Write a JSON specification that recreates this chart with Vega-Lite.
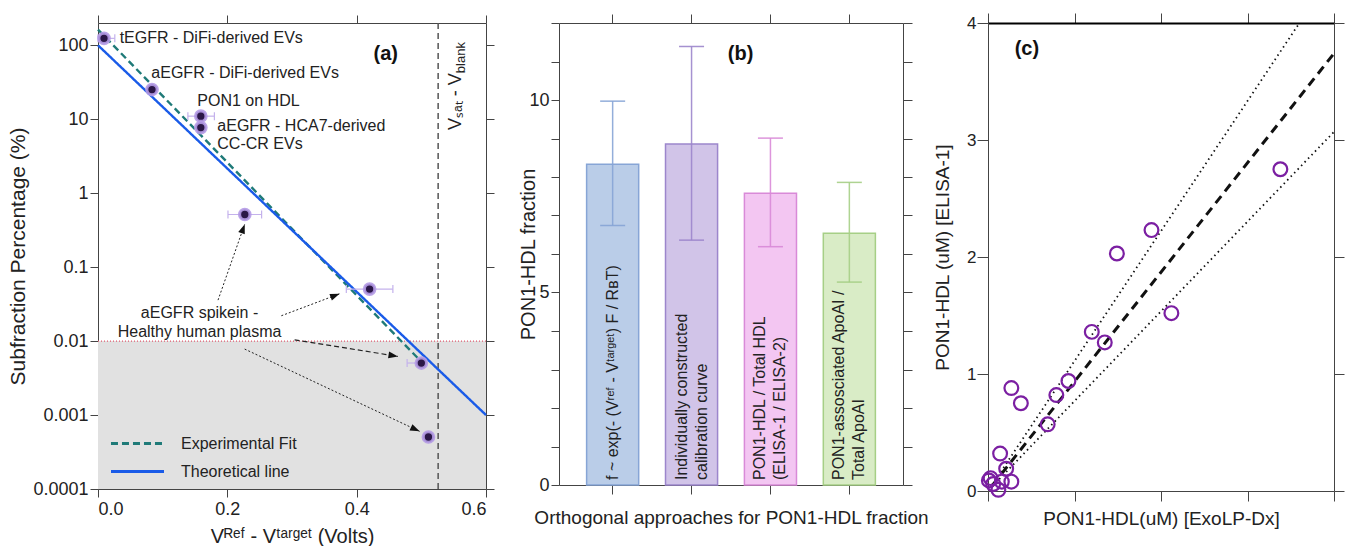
{
  "$schema": "https://vega.github.io/schema/vega-lite/v6.json",
  "padding": {"left": 7, "top": 12, "right": 0, "bottom": 0},
  "background": "white",
  "spacing": 23,
  "config": {
    "font": "Liberation Sans",
    "view": {"stroke": null},
    "axis": {"grid": false, "domainColor": "#444", "tickColor": "#444", "labelColor": "#222", "titleColor": "#222", "titleFontWeight": "normal", "labelFont": "Liberation Sans", "titleFont": "Liberation Sans"}
  },
  "datasets": {
    "pts": [
      {"sample": "tEGFR - DiFi-derived EVs", "v": 0.0093, "pct": 124, "vlo": 0.0, "vhi": 0.026},
      {"sample": "aEGFR - DiFi-derived EVs", "v": 0.0835, "pct": 25.2, "vlo": 0.079, "vhi": 0.088},
      {"sample": "PON1 on HDL", "v": 0.159, "pct": 11.0, "vlo": 0.139, "vhi": 0.18},
      {"sample": "aEGFR - HCA7-derived CC-CR EVs", "v": 0.159, "pct": 7.7, "vlo": 0.155, "vhi": 0.163},
      {"sample": "aEGFR spikein 1", "v": 0.227, "pct": 0.515, "vlo": 0.201, "vhi": 0.253},
      {"sample": "aEGFR spikein 2", "v": 0.42, "pct": 0.0505, "vlo": 0.384, "vhi": 0.456},
      {"sample": "aEGFR spikein 3", "v": 0.5, "pct": 0.00505, "vlo": 0.478, "vhi": 0.505},
      {"sample": "aEGFR spikein 4", "v": 0.511, "pct": 0.000505, "vlo": 0.506, "vhi": 0.516}
    ],
    "fits": [
      {"series": "Experimental Fit", "v": 0, "pct": 163},
      {"series": "Experimental Fit", "v": 0.497, "pct": 0.0056},
      {"series": "Theoretical line", "v": 0, "pct": 100},
      {"series": "Theoretical line", "v": 0.6, "pct": 0.001}
    ],
    "labelsA": [
      {"text": "tEGFR -  DiFi-derived EVs", "v": 0.0335, "pct": 124},
      {"text": "aEGFR -  DiFi-derived EVs", "v": 0.0825, "pct": 41.9},
      {"text": "PON1 on HDL", "v": 0.1536, "pct": 17.5},
      {"text": "aEGFR -  HCA7-derived", "v": 0.1845, "pct": 8.22},
      {"text": "CC-CR EVs", "v": 0.1845, "pct": 4.63}
    ],
    "labelsA2": [
      {"text": "aEGFR spikein -", "v": 0.157, "pct": 0.0239},
      {"text": "Healthy human plasma", "v": 0.157, "pct": 0.01324}
    ],
    "arrows": [
      {"v1": 0.1856, "p1": 0.0358, "v2": 0.2269, "p2": 0.381},
      {"v1": 0.2835, "p1": 0.022, "v2": 0.3736, "p2": 0.0436},
      {"v1": 0.2268, "p1": 0.0078, "v2": 0.4973, "p2": 0.000602}
    ],
    "bars": [
      {"approach": "f ~ exp(- (Vʳᵉᶠ - Vᵗᵃʳᵍᵉᵗ) F / RʙT)", "value": 8.33, "lo": 6.74, "hi": 9.97},
      {"approach": "Individually constructed\ncalibration curve", "value": 8.86, "lo": 6.36, "hi": 11.39},
      {"approach": "PON1-HDL / Total HDL\n(ELISA-1 / ELISA-2)", "value": 7.58, "lo": 6.19, "hi": 9.01},
      {"approach": "PON1-assosciated ApoAI /\nTotal ApoAI", "value": 6.54, "lo": 5.27, "hi": 7.86}
    ],
    "ptsC": [
      {"exolp": 3.38, "elisa": 2.75},
      {"exolp": 1.89, "elisa": 2.23},
      {"exolp": 1.49, "elisa": 2.03},
      {"exolp": 2.12, "elisa": 1.52},
      {"exolp": 1.2, "elisa": 1.36},
      {"exolp": 1.35, "elisa": 1.27},
      {"exolp": 0.93, "elisa": 0.94},
      {"exolp": 0.79, "elisa": 0.82},
      {"exolp": 0.69, "elisa": 0.57},
      {"exolp": 0.27, "elisa": 0.88},
      {"exolp": 0.38, "elisa": 0.75},
      {"exolp": 0.14, "elisa": 0.32},
      {"exolp": 0.21, "elisa": 0.19},
      {"exolp": 0.03, "elisa": 0.11},
      {"exolp": 0.27, "elisa": 0.08},
      {"exolp": 0.06, "elisa": 0.06},
      {"exolp": 0.12, "elisa": 0.01},
      {"exolp": 0.16, "elisa": 0.08},
      {"exolp": 0.01, "elisa": 0.09}
    ],
    "fitC": [
      {"exolp": 0.05, "elisa": 0.047},
      {"exolp": 4, "elisa": 3.74}
    ],
    "boundsC": [
      {"bound": "upper", "exolp": 0.05, "elisa": 0.055},
      {"bound": "upper", "exolp": 3.6, "elisa": 4},
      {"bound": "lower", "exolp": 0.05, "elisa": 0.04},
      {"bound": "lower", "exolp": 4, "elisa": 3.07}
    ]
  },
  "hconcat": [
    {
      "width": 388,
      "height": 466,
      "resolve": {"axis": {"x": "independent", "y": "independent"}},
      "layer": [
        {
          "data": {"values": [{}]},
          "mark": {"type": "rect", "color": "#e1e1e1"},
          "encoding": {
            "x": {"datum": 0, "type": "quantitative", "scale": {"domain": [0, 0.6], "nice": false, "zero": false},
              "axis": {"orient": "bottom", "values": [0, 0.2, 0.4, 0.6], "format": ".1f", "labelFontSize": 18, "tickSize": 8, "labelPadding": 3, "title": "Vᴿᵉᶠ - Vᵗᵃʳᵍᵉᵗ (Volts)", "titleFontSize": 20, "titlePadding": 8}},
            "x2": {"datum": 0.6},
            "y": {"datum": 0.0001, "type": "quantitative", "scale": {"type": "log", "domain": [0.0001, 200], "nice": false},
              "axis": {"orient": "left", "values": [0.0001, 0.001, 0.01, 0.1, 1, 10, 100], "format": "~g", "labelFontSize": 18, "tickSize": 8, "labelPadding": 2, "title": "Subfraction Percentage (%)", "titleFontSize": 21, "titlePadding": 4}},
            "y2": {"datum": 0.01}
          }
        },
        {
          "data": {"values": [{}]},
          "mark": {"type": "rule", "color": "#e05a6e", "strokeDash": [1, 2], "strokeWidth": 1.2},
          "encoding": {"y": {"datum": 0.01, "type": "quantitative", "axis": null}}
        },
        {
          "data": {"values": [{}]},
          "mark": {"type": "rule", "color": "#555", "strokeDash": [6, 4], "strokeWidth": 1.5},
          "encoding": {"x": {"datum": 0.526, "type": "quantitative", "axis": null}}
        },
        {
          "data": {"name": "fits"},
          "mark": {"type": "line", "strokeWidth": 2.4},
          "encoding": {
            "x": {"field": "v", "type": "quantitative", "axis": {"orient": "top", "values": [0, 0.2, 0.4, 0.6], "labels": false, "tickSize": 8, "title": null}},
            "y": {"field": "pct", "type": "quantitative", "axis": {"orient": "right", "values": [0.0001, 0.001, 0.01, 0.1, 1, 10, 100], "labels": false, "tickSize": 8, "title": null}},
            "color": {"field": "series", "type": "nominal", "scale": {"domain": ["Experimental Fit", "Theoretical line"], "range": ["#1f7a78", "#1a5be8"]},
              "legend": {"orient": "none", "legendX": 27, "legendY": 408, "title": null, "padding": 0, "symbolType": "M-2.5,0L2.5,0", "symbolSize": 450, "symbolStrokeWidth": 3, "labelFontSize": 16, "labelOffset": 31, "rowPadding": 7, "labelColor": "#222"}},
            "strokeDash": {"field": "series", "type": "nominal", "scale": {"domain": ["Experimental Fit", "Theoretical line"], "range": [[7, 4], [1, 0]]},
              "legend": {"orient": "none", "legendX": 27, "legendY": 408, "title": null, "padding": 0, "symbolType": "M-2.5,0L2.5,0", "symbolSize": 450, "symbolStrokeWidth": 3, "labelFontSize": 16, "labelOffset": 31, "rowPadding": 7, "labelColor": "#222"}}
          }
        },
        {
          "data": {"name": "pts"},
          "mark": {"type": "rule", "color": "#c4b2ec", "strokeWidth": 1.2},
          "encoding": {
            "x": {"field": "vlo", "type": "quantitative", "axis": null},
            "x2": {"field": "vhi"},
            "y": {"field": "pct", "type": "quantitative", "axis": null}
          }
        },
        {
          "data": {"name": "pts"},
          "mark": {"type": "point", "shape": "M0,-1L0,1", "filled": false, "stroke": "#c4b2ec", "strokeWidth": 1.2, "opacity": 1, "size": 64},
          "encoding": {
            "x": {"field": "vhi", "type": "quantitative", "axis": null},
            "y": {"field": "pct", "type": "quantitative", "axis": null}
          }
        },
        {
          "data": {"name": "pts"},
          "mark": {"type": "point", "shape": "M0,-1L0,1", "filled": false, "stroke": "#c4b2ec", "strokeWidth": 1.2, "opacity": 1, "size": 64},
          "encoding": {
            "x": {"field": "vlo", "type": "quantitative", "axis": null},
            "y": {"field": "pct", "type": "quantitative", "axis": null}
          }
        },
        {
          "data": {"name": "pts"},
          "mark": {"type": "point", "shape": "circle", "filled": true, "fill": "#2b1747", "fillOpacity": 1, "stroke": "#b49ae6", "strokeWidth": 3.2, "strokeOpacity": 0.9, "opacity": 1, "size": 110},
          "encoding": {
            "x": {"field": "v", "type": "quantitative", "axis": null},
            "y": {"field": "pct", "type": "quantitative", "axis": null}
          }
        },
        {
          "data": {"name": "labelsA"},
          "mark": {"type": "text", "align": "left", "baseline": "middle", "fontSize": 16, "color": "#222"},
          "encoding": {
            "x": {"field": "v", "type": "quantitative", "axis": null},
            "y": {"field": "pct", "type": "quantitative", "axis": null},
            "text": {"field": "text"}
          }
        },
        {
          "data": {"name": "labelsA2"},
          "mark": {"type": "text", "align": "center", "baseline": "middle", "fontSize": 16, "color": "#222"},
          "encoding": {
            "x": {"field": "v", "type": "quantitative", "axis": null},
            "y": {"field": "pct", "type": "quantitative", "axis": null},
            "text": {"field": "text"}
          }
        },
        {
          "data": {"values": [{}]},
          "mark": {"type": "text", "text": "(a)", "fontSize": 20, "fontWeight": "bold", "align": "center", "baseline": "middle", "color": "#111"},
          "encoding": {"x": {"datum": 0.445, "type": "quantitative", "axis": null}, "y": {"datum": 76.3, "type": "quantitative", "axis": null}}
        },
        {
          "data": {"values": [{}]},
          "mark": {"type": "text", "text": "Vₛₐₜ - V", "fontSize": 18, "angle": 270, "align": "right", "baseline": "alphabetic", "color": "#222"},
          "encoding": {"x": {"datum": 0.5613, "type": "quantitative", "axis": null}, "y": {"datum": 41.9, "type": "quantitative", "axis": null}}
        },
        {
          "data": {"values": [{}]},
          "mark": {"type": "text", "text": "blank", "fontSize": 13, "angle": 270, "align": "left", "baseline": "alphabetic", "dy": 4, "color": "#222"},
          "encoding": {"x": {"datum": 0.5613, "type": "quantitative", "axis": null}, "y": {"datum": 41.9, "type": "quantitative", "axis": null}}
        },
        {
          "data": {"name": "arrows"},
          "mark": {"type": "rule", "color": "#222", "strokeWidth": 1, "strokeDash": [2, 2]},
          "encoding": {
            "x": {"field": "v1", "type": "quantitative", "axis": null},
            "y": {"field": "p1", "type": "quantitative", "axis": null},
            "x2": {"field": "v2"},
            "y2": {"field": "p2"}
          }
        },
        {
          "data": {"values": [{"v1": 0.304, "p1": 0.0104, "v2": 0.4639, "p2": 0.00621}]},
          "mark": {"type": "rule", "color": "#222", "strokeWidth": 1.2, "strokeDash": [5, 3]},
          "encoding": {
            "x": {"field": "v1", "type": "quantitative", "axis": null},
            "y": {"field": "p1", "type": "quantitative", "axis": null},
            "x2": {"field": "v2"},
            "y2": {"field": "p2"}
          }
        },
        {
          "data": {"values": [{}]},
          "mark": {"type": "point", "shape": "M0,0L-0.4,1.1L0.4,1.1Z", "angle": 19.8, "filled": true, "color": "#111", "opacity": 1, "size": 300},
          "encoding": {"x": {"datum": 0.2269, "type": "quantitative", "axis": null}, "y": {"datum": 0.381, "type": "quantitative", "axis": null}}
        },
        {
          "data": {"values": [{}]},
          "mark": {"type": "point", "shape": "M0,0L-0.4,1.1L0.4,1.1Z", "angle": 69.4, "filled": true, "color": "#111", "opacity": 1, "size": 300},
          "encoding": {"x": {"datum": 0.3736, "type": "quantitative", "axis": null}, "y": {"datum": 0.0436, "type": "quantitative", "axis": null}}
        },
        {
          "data": {"values": [{}]},
          "mark": {"type": "point", "shape": "M0,0L-0.4,1.1L0.4,1.1Z", "angle": 99.1, "filled": true, "color": "#111", "opacity": 1, "size": 300},
          "encoding": {"x": {"datum": 0.4639, "type": "quantitative", "axis": null}, "y": {"datum": 0.00621, "type": "quantitative", "axis": null}}
        },
        {
          "data": {"values": [{}]},
          "mark": {"type": "point", "shape": "M0,0L-0.4,1.1L0.4,1.1Z", "angle": 115.2, "filled": true, "color": "#111", "opacity": 1, "size": 300},
          "encoding": {"x": {"datum": 0.4973, "type": "quantitative", "axis": null}, "y": {"datum": 0.000602, "type": "quantitative", "axis": null}}
        }
      ]
    },
    {
      "spacing": 4,
      "hconcat": [
        {
          "width": 344,
          "height": 462,
          "data": {"name": "bars"},
          "resolve": {"axis": {"x": "independent", "y": "independent"}},
          "layer": [
            {
              "mark": {"type": "bar", "strokeWidth": 1.5},
              "encoding": {
                "x": {"field": "approach", "type": "nominal", "sort": null, "scale": {"paddingInner": 0.34, "paddingOuter": 0.35},
                  "axis": {"orient": "bottom", "labels": false, "tickSize": 9, "title": "Orthogonal approaches for PON1-HDL fraction", "titleFontSize": 19, "titlePadding": 14}},
                "y": {"field": "value", "type": "quantitative", "scale": {"domain": [0, 12], "nice": false},
                  "axis": {"orient": "left", "values": [0, 1, 2, 3, 4, 5, 6, 7, 8, 9, 10, 11, 12], "labelExpr": "datum.value % 5 === 0 ? datum.label : ''", "labelFontSize": 18, "tickSize": 8, "labelPadding": 2, "title": "PON1-HDL fraction", "titleFontSize": 20, "titlePadding": -10}},
                "fill": {"field": "approach", "type": "nominal", "sort": null, "scale": {"range": ["#bacde8", "#d1c4e8", "#f3c6f2", "#d9ecc6"]}, "legend": null},
                "stroke": {"field": "approach", "type": "nominal", "sort": null, "scale": {"range": ["#87a5d6", "#9c86cc", "#d98ad8", "#a6cf86"]}, "legend": null}
              }
            },
            {
              "mark": {"type": "rule", "strokeWidth": 1.5, "opacity": 0.9},
              "encoding": {
                "x": {"field": "approach", "type": "nominal", "sort": null, "axis": {"orient": "top", "labels": false, "tickSize": 9, "title": null}},
                "y": {"field": "lo", "type": "quantitative", "axis": {"orient": "right", "values": [0, 1, 2, 3, 4, 5, 6, 7, 8, 9, 10, 11, 12], "labels": false, "tickSize": 9, "title": null}},
                "y2": {"field": "hi"},
                "stroke": {"field": "approach", "type": "nominal", "sort": null, "legend": null}
              }
            },
            {
              "mark": {"type": "point", "shape": "stroke", "filled": false, "size": 625, "strokeWidth": 1.5, "opacity": 0.9},
              "encoding": {
                "x": {"field": "approach", "type": "nominal", "sort": null, "axis": null},
                "y": {"field": "lo", "type": "quantitative", "axis": null},
                "stroke": {"field": "approach", "type": "nominal", "sort": null, "legend": null}
              }
            },
            {
              "mark": {"type": "point", "shape": "stroke", "filled": false, "size": 625, "strokeWidth": 1.5, "opacity": 0.9},
              "encoding": {
                "x": {"field": "approach", "type": "nominal", "sort": null, "axis": null},
                "y": {"field": "hi", "type": "quantitative", "axis": null},
                "stroke": {"field": "approach", "type": "nominal", "sort": null, "legend": null}
              }
            },
            {
              "transform": [{"filter": "indexof(datum.approach, '\\n') < 0"}],
              "mark": {"type": "text", "angle": 270, "align": "left", "baseline": "middle", "dx": 5, "fontSize": 16, "lineBreak": "\n", "lineHeight": 20, "color": "#222"},
              "encoding": {
                "x": {"field": "approach", "type": "nominal", "sort": null, "axis": null},
                "y": {"datum": 0, "type": "quantitative", "axis": null},
                "text": {"field": "approach"}
              }
            },
            {
              "transform": [{"filter": "indexof(datum.approach, '\\n') >= 0"}],
              "mark": {"type": "text", "angle": 270, "align": "left", "baseline": "middle", "dx": 5, "dy": -10, "fontSize": 16, "lineBreak": "\n", "lineHeight": 20, "color": "#222"},
              "encoding": {
                "x": {"field": "approach", "type": "nominal", "sort": null, "axis": null},
                "y": {"datum": 0, "type": "quantitative", "axis": null},
                "text": {"field": "approach"}
              }
            },
            {
              "data": {"values": [{}]},
              "mark": {"type": "text", "text": "(b)", "fontSize": 20, "fontWeight": "bold", "align": "center", "baseline": "middle", "dx": 49, "color": "#111"},
              "encoding": {
                "x": {"datum": "Individually constructed\ncalibration curve", "type": "nominal", "axis": null},
                "y": {"datum": 11.19, "type": "quantitative", "axis": null}
              }
            }
          ]
        },
        {
          "width": 346,
          "height": 468,
          "resolve": {"axis": {"x": "independent", "y": "independent"}},
          "layer": [
            {
              "data": {"name": "fitC"},
              "mark": {"type": "line", "color": "#111", "strokeWidth": 3, "strokeDash": [9, 6]},
              "encoding": {
                "x": {"field": "exolp", "type": "quantitative", "scale": {"domain": [0, 4], "nice": false},
                  "axis": {"orient": "bottom", "values": [0, 1, 2, 3, 4], "labels": false, "tickSize": 10, "title": "PON1-HDL(uM) [ExoLP-Dx]", "titleFontSize": 19, "titlePadding": 8}},
                "y": {"field": "elisa", "type": "quantitative", "scale": {"domain": [0, 4], "nice": false},
                  "axis": {"orient": "left", "values": [0, 1, 2, 3, 4], "format": "d", "labelFontSize": 17, "tickSize": 11, "labelPadding": 1, "title": "PON1-HDL (uM) [ELISA-1]", "titleFontSize": 19, "titlePadding": 14}}
              }
            },
            {
              "data": {"name": "boundsC"},
              "mark": {"type": "line", "color": "#111", "strokeWidth": 1.8, "strokeDash": [1.5, 3.5]},
              "encoding": {
                "x": {"field": "exolp", "type": "quantitative", "axis": {"orient": "top", "values": [0, 1, 2, 3, 4], "labels": false, "tickSize": 10, "title": null, "domainColor": "#000", "domainWidth": 2}},
                "y": {"field": "elisa", "type": "quantitative", "axis": {"orient": "right", "values": [0, 1, 2, 3, 4], "labels": false, "tickSize": 10, "title": null}},
                "detail": {"field": "bound"}
              }
            },
            {
              "data": {"name": "ptsC"},
              "mark": {"type": "point", "shape": "circle", "filled": false, "stroke": "#7b1fa2", "strokeWidth": 2.2, "opacity": 1, "size": 190},
              "encoding": {
                "x": {"field": "exolp", "type": "quantitative", "axis": null},
                "y": {"field": "elisa", "type": "quantitative", "axis": null}
              }
            },
            {
              "data": {"values": [{}]},
              "mark": {"type": "text", "text": "(c)", "fontSize": 20, "fontWeight": "bold", "align": "center", "baseline": "middle", "color": "#111"},
              "encoding": {"x": {"datum": 0.45, "type": "quantitative", "axis": null}, "y": {"datum": 3.78, "type": "quantitative", "axis": null}}
            }
          ]
        }
      ]
    }
  ]
}
